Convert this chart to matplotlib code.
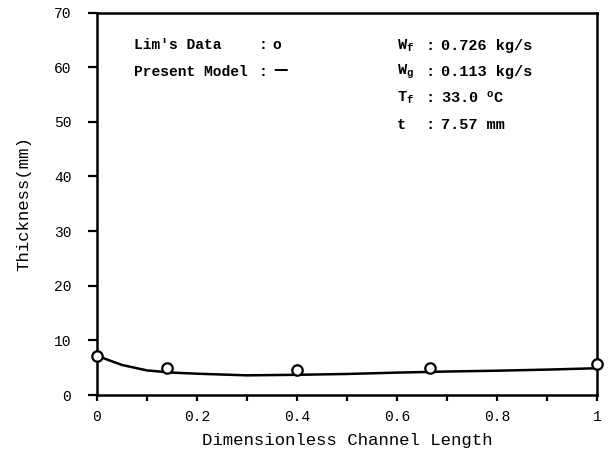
import numpy as np
import matplotlib
matplotlib.use('Agg')
import matplotlib.pyplot as plt

# Lim's measured film thickness (circles)
lim_x = [0.0, 0.14, 0.40, 0.665, 1.0]
lim_y = [7.2, 5.0, 4.5, 4.9, 5.7]

# Present model curve
model_x = [0.0, 0.02, 0.05, 0.1, 0.15, 0.2, 0.3, 0.4, 0.5, 0.6, 0.7, 0.8, 0.9, 1.0]
model_y = [7.2, 6.5, 5.5, 4.5, 4.1, 3.9, 3.6, 3.7, 3.85, 4.1, 4.3, 4.45, 4.65, 4.9]

x_ticks = [0, 0.2, 0.4, 0.6, 0.8, 1]
x_tick_labels = ['0', '0.2', '0.4', '0.6', '0.8', '1']
y_ticks = [0, 10, 20, 30, 40, 50, 60, 70]

plt.rcParams['font.family'] = ['Liberation Mono', 'DejaVu Sans']
plt.rcParams['mathtext.fontset'] = 'custom'
plt.rcParams['mathtext.rm'] = 'Liberation Mono:bold'
plt.rcParams['mathtext.it'] = 'Liberation Mono:bold'
plt.rcParams['mathtext.default'] = 'rm'

W, H = 608, 453
fig = plt.figure(figsize=(W / 100, H / 100), dpi=100)
ax = fig.add_axes([0.1595, 0.128, 0.8225, 0.8444])

ax.plot(model_x, model_y, color='k', lw=1.8)
ax.plot(lim_x, lim_y, 'o', mfc='white', mec='k', mew=1.6, ms=7.5, clip_on=False, zorder=5)

ax.set_xlim(0, 1)
ax.set_ylim(0, 70)
ax.set_xticks(x_ticks)
ax.set_xticklabels(x_tick_labels)
ax.set_xticks(np.arange(0.1, 1.0, 0.2), minor=True)
ax.set_yticks(y_ticks)
ax.tick_params(which='both', direction='out', width=1.6, labelsize=10.5)
ax.tick_params(axis='x', which='both', length=4, pad=7)
ax.tick_params(axis='y', length=6.5, pad=12)
for s in ax.spines.values():
    s.set_linewidth(1.8)

ax.set_xlabel('Dimensionless Channel Length', fontsize=12.5, va='center')
ax.xaxis.set_label_coords(0.5, -0.118)
ax.set_ylabel('Thickness(mm)', fontsize=12.5, va='center')
ax.yaxis.set_label_coords(-0.146, 0.5)


def px(x, y):
    # pixel position in the image -> figure fraction
    return x / W, 1 - y / H


kw = dict(fontsize=10.5, fontweight='bold', va='center')
fig.text(*px(134, 45), "Lim's Data", **kw)
fig.text(*px(134, 72), "Present Model", **kw)
fig.text(*px(263, 45), ":", ha='center', **kw)
fig.text(*px(263, 72), ":", ha='center', **kw)
fig.text(*px(277, 45), "o", ha='center', **kw)
fig.text(*px(280, 69.5), "\u2014", ha='center', family='DejaVu Sans', **kw)

kw2 = dict(fontsize=11, fontweight='bold', va='center')
names = [r"W$_f$", r"W$_g$", r"T$_f$", "t"]
values = ["0.726 kg/s", "0.113 kg/s", r"33.0 $^o$C", "7.57 mm"]
rows_y = [46, 72, 98, 125]
for name, val, yy in zip(names, values, rows_y):
    fig.text(*px(397, yy), name, **kw2)
    fig.text(*px(430, yy), ":", ha='center', **kw2)
    fig.text(*px(441, yy), val, **kw2)

fig.savefig('out.png', dpi=100)
